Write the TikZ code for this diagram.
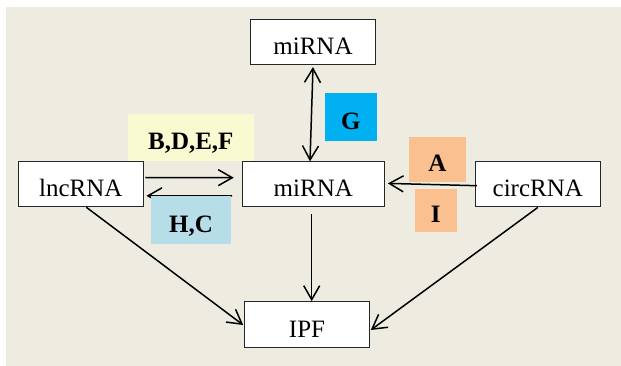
\documentclass[tikz,border=0pt]{standalone}
\usepackage{fontspec}
\setmainfont{Liberation Serif}
\usetikzlibrary{arrows.meta}
\definecolor{bgc}{RGB}{238,235,224}
\definecolor{ylw}{RGB}{250,250,210}
\definecolor{lblue}{RGB}{183,221,232}
\definecolor{gblue}{RGB}{0,176,240}
\definecolor{orng}{RGB}{250,192,144}
\tikzset{
  rnabox/.style={draw=black!85, fill=white, line width=1.1pt, inner sep=0pt,
    font=\fontsize{25}{28}\selectfont, text height=25pt, text depth=0pt},
  tagbox/.style={inner sep=0pt, font=\fontsize{25}{28}\selectfont\bfseries,
    text height=25pt, text depth=0pt},
  arr/.style={line width=1.5pt, -{Straight Barb[length=14pt,width=16pt]}},
  darr/.style={line width=1.5pt, {Straight Barb[length=14pt,width=16pt]}-{Straight Barb[length=14pt,width=16pt]}}
}
\begin{document}
\begin{tikzpicture}[x=1pt,y=-1pt]
\useasboundingbox (0,0) rectangle (621,366);
\fill[bgc] (6,7) rectangle (621,366);
% boxes
\node[rnabox, minimum width=125pt, minimum height=45pt] (top) at (313,42) {miRNA};
\node[rnabox, minimum width=125pt, minimum height=45pt] (lnc) at (80.8,184.2) {lncRNA};
\node[rnabox, minimum width=142pt, minimum height=45pt] (mid) at (313.3,184.4) {miRNA};
\node[rnabox, minimum width=124.5pt, minimum height=45pt] (circ) at (537.8,184.4) {circRNA};
\node[rnabox, minimum width=124.5pt, minimum height=45.6pt] (ipf) at (307,324.5) {IPF};
% connectors
\draw[darr] ([yshift=-2pt]top.south) -- ([xshift=-3.3pt]mid.north);
\draw[arr] ([xshift=1.5pt,yshift=6.7pt]lnc.east) -- ([xshift=-8pt,yshift=6.7pt]mid.west);
\draw[arr] ([xshift=-9.6pt,yshift=-11.6pt]mid.west) -- ([xshift=2.6pt,yshift=-11.6pt]lnc.east);
\draw[arr] ([xshift=2pt,yshift=-1.3pt]circ.west) -- ([xshift=3pt,yshift=1pt]mid.east);
\draw[arr] ([xshift=-1.6pt,yshift=-6.4pt]mid.south) -- ([xshift=4.7pt]ipf.north);
\draw[arr] ([xshift=5.5pt]lnc.south) -- ([xshift=-1pt,yshift=-0.5pt]ipf.west);
\draw[arr] (circ.south) -- ([xshift=1pt,yshift=-5.5pt]ipf.east);
% tags
\node[tagbox, fill=ylw, minimum width=125.5pt, minimum height=47pt] (bdef) at (190.8,137.5) {B,D,E,F};
\node[tagbox, fill=lblue, minimum width=80pt, minimum height=47.7pt] (hc) at (191,219.8) {H,C};
\node[tagbox, fill=gblue, minimum width=51.6pt, minimum height=47.4pt] (g) at (350.8,117) {G};
\node[tagbox, fill=orng, minimum width=56.7pt, minimum height=44.7pt] (a) at (437.3,159.3) {A};
\node[tagbox, fill=orng, minimum width=41.6pt, minimum height=42.7pt] (i) at (435.8,210.3) {I};
\end{tikzpicture}
\end{document}
